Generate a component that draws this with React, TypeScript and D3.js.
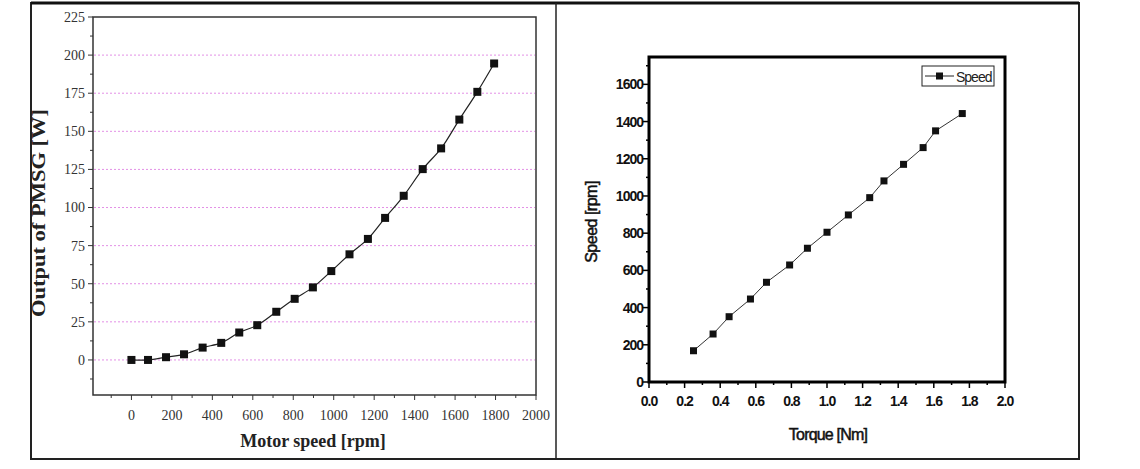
import React from "react";
import * as d3 from "d3";

const motorSpeed = [0, 82, 171, 260, 352, 444, 533, 622, 716, 807, 897, 988, 1078, 1169, 1254, 1346, 1440, 1531, 1621, 1710, 1793];
const pmsgOutput = [0, 0, 1.8, 3.7, 8.1, 11.2, 18, 22.8, 31.6, 40.1, 47.6, 58.3, 69.3, 79.4, 93.2, 107.7, 125.2, 138.8, 157.7, 175.9, 194.5];
const leftXTicks = [0, 200, 400, 600, 800, 1000, 1200, 1400, 1600, 1800, 2000];
const leftYTicks = [0, 25, 50, 75, 100, 125, 150, 175, 200, 225];

const torque = [0.25, 0.36, 0.45, 0.57, 0.66, 0.79, 0.89, 1.0, 1.12, 1.24, 1.32, 1.43, 1.54, 1.61, 1.76];
const speed = [168, 258, 351, 446, 536, 629, 719, 805, 898, 991, 1081, 1170, 1260, 1350, 1443];
const rightXTicks = [0, 0.2, 0.4, 0.6, 0.8, 1.0, 1.2, 1.4, 1.6, 1.8, 2.0];
const rightYTicks = [0, 200, 400, 600, 800, 1000, 1200, 1400, 1600];

const serif = "'Liberation Serif', 'Times New Roman', serif";
const sans = "'Liberation Sans', Arial, sans-serif";

export default function App() {
  // Left chart
  const lx = d3.scaleLinear().domain([-190, 2000]).range([93, 536]);
  const ly = d3.scaleLinear().domain([-23, 225]).range([395, 17]);
  const leftLine = d3
    .line<number>()
    .x((_, i) => lx(motorSpeed[i]))
    .y((d) => ly(d))
    .curve(d3.curveCatmullRom);
  const leftMinorX = d3.range(-100, 2000, 100).filter((v) => v % 200 !== 0);
  const leftMinorY = d3.range(-12.5, 225, 25);

  // Right chart
  const rx = d3.scaleLinear().domain([0, 2.0]).range([649, 1005]);
  const ry = d3.scaleLinear().domain([0, 1747]).range([382, 57]);
  const rightLine = d3
    .line<number>()
    .x((_, i) => rx(torque[i]))
    .y((d) => ry(d));
  const rightMinorX = d3.range(0.1, 2.0, 0.2);
  const rightMinorY = d3.range(100, 1747, 200);

  return (
    <svg
      width={1140}
      height={469}
      style={{ position: "absolute", left: 0, top: 0, background: "#fff" }}
    >
      {/* outer frame */}
      <rect x={31} y={3} width={1048} height={456} fill="none" stroke="#222" strokeWidth={2} />
      <line x1={31} x2={1079} y1={3} y2={3} stroke="#111" strokeWidth={3} />
      <line x1={556} x2={556} y1={3} y2={459} stroke="#222" strokeWidth={1.5} />

      {/* ===== Left chart ===== */}
      {leftYTicks
        .filter((v) => v < 225)
        .map((v) => (
          <line
            key={"g" + v}
            x1={94}
            x2={535}
            y1={ly(v)}
            y2={ly(v)}
            stroke="#e390e6"
            strokeWidth={1}
            strokeDasharray="2,2"
          />
        ))}
      <rect x={93} y={17} width={443} height={378} fill="none" stroke="#333" strokeWidth={1.5} />
      {leftYTicks.map((v) => (
        <g key={"ly" + v}>
          <line x1={88} x2={93} y1={ly(v)} y2={ly(v)} stroke="#333" strokeWidth={1} />
          <text x={85} y={ly(v)} dy="0.35em" textAnchor="end" fontFamily={serif} fontSize={14} fill="#333">
            {v}
          </text>
        </g>
      ))}
      {leftMinorY.map((v) => (
        <line key={"lmy" + v} x1={90} x2={93} y1={ly(v)} y2={ly(v)} stroke="#333" strokeWidth={1} />
      ))}
      {leftXTicks.map((v) => (
        <g key={"lx" + v}>
          <line x1={lx(v)} x2={lx(v)} y1={395} y2={400} stroke="#333" strokeWidth={1} />
          <text x={lx(v)} y={420} textAnchor="middle" fontFamily={serif} fontSize={14} fill="#333">
            {v}
          </text>
        </g>
      ))}
      {leftMinorX.map((v) => (
        <line key={"lmx" + v} x1={lx(v)} x2={lx(v)} y1={395} y2={398} stroke="#333" strokeWidth={1} />
      ))}
      <path d={leftLine(pmsgOutput) || ""} fill="none" stroke="#222" strokeWidth={1.2} />
      {pmsgOutput.map((v, i) => (
        <rect key={"lp" + i} x={lx(motorSpeed[i]) - 4} y={ly(v) - 4} width={8} height={8} fill="#111" />
      ))}
      <text
        x={313}
        y={447}
        textAnchor="middle"
        fontFamily={serif}
        fontWeight="bold"
        fontSize={18}
        fill="#222"
      >
        Motor speed [rpm]
      </text>
      <text
        transform={`translate(45,213) rotate(-90)`}
        textAnchor="middle"
        fontFamily={serif}
        fontWeight="bold"
        fontSize={18}
        textLength={208}
        lengthAdjust="spacingAndGlyphs"
        fill="#222"
      >
        Output of PMSG [W]
      </text>

      {/* ===== Right chart ===== */}
      <rect x={649} y={57} width={356} height={325} fill="none" stroke="#000" strokeWidth={3} />
      {rightYTicks.map((v) => (
        <g key={"ry" + v}>
          <line x1={643} x2={649} y1={ry(v)} y2={ry(v)} stroke="#000" strokeWidth={1.5} />
          <text
            x={643}
            y={ry(v)}
            dy="0.36em"
            textAnchor="end"
            fontFamily={sans}
            fontSize={14}
            fontWeight={600}
            letterSpacing={-1}
            fill="#111"
          >
            {v}
          </text>
        </g>
      ))}
      {rightMinorY.map((v) => (
        <line key={"rmy" + v} x1={646} x2={649} y1={ry(v)} y2={ry(v)} stroke="#000" strokeWidth={1.5} />
      ))}
      {rightXTicks.map((v) => (
        <g key={"rx" + v}>
          <line x1={rx(v)} x2={rx(v)} y1={382} y2={388} stroke="#000" strokeWidth={1.5} />
          <text
            x={rx(v)}
            y={406}
            textAnchor="middle"
            fontFamily={sans}
            fontSize={14}
            fontWeight={600}
            letterSpacing={-1}
            fill="#111"
          >
            {v.toFixed(1)}
          </text>
        </g>
      ))}
      {rightMinorX.map((v) => (
        <line key={"rmx" + v} x1={rx(v)} x2={rx(v)} y1={382} y2={385} stroke="#000" strokeWidth={1.5} />
      ))}
      <path d={rightLine(speed) || ""} fill="none" stroke="#333" strokeWidth={1} />
      {speed.map((v, i) => (
        <rect key={"rp" + i} x={rx(torque[i]) - 3.5} y={ry(v) - 3.5} width={7} height={7} fill="#111" />
      ))}
      {/* legend */}
      <rect x={922} y={66} width={72} height={20} fill="#fff" stroke="#222" strokeWidth={1} />
      <line x1={925} x2={954} y1={76} y2={76} stroke="#222" strokeWidth={1} />
      <rect x={936} y={72.5} width={7} height={7} fill="#111" />
      <text x={956} y={81.5} fontFamily={sans} fontSize={14} letterSpacing={-1} fill="#222">
        Speed
      </text>
      <text
        x={828}
        y={440}
        textAnchor="middle"
        fontFamily={sans}
        fontSize={16}
        letterSpacing={-0.8}
        stroke="#111"
        strokeWidth={0.5}
        fill="#111"
      >
        Torque [Nm]
      </text>
      <text
        transform={`translate(597,222) rotate(-90)`}
        textAnchor="middle"
        fontFamily={sans}
        fontSize={16}
        letterSpacing={-0.5}
        stroke="#111"
        strokeWidth={0.5}
        fill="#111"
      >
        Speed [rpm]
      </text>
    </svg>
  );
}
